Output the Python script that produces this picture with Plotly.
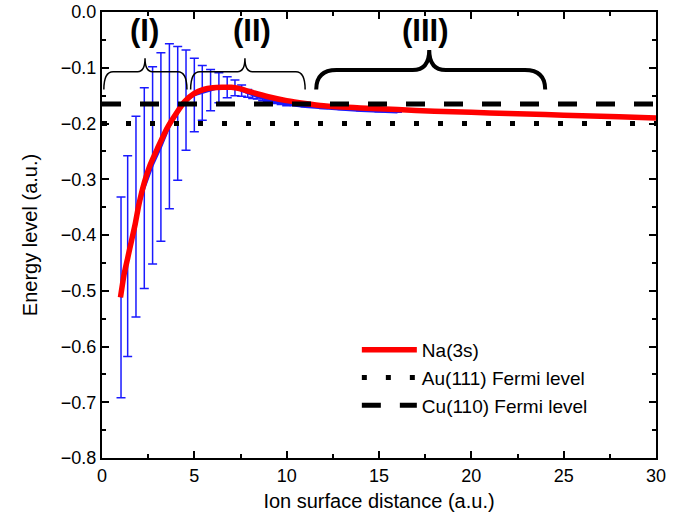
import plotly.graph_objects as go

# Na(3s) level vs. ion-surface distance
na_x = [1.0, 1.2, 1.4, 1.6, 1.8, 2.0, 2.3, 2.6, 3.0, 3.5, 4.0, 4.5, 5.0, 5.5, 6.0,
        6.5, 7.0, 7.5, 8.0, 9.0, 10.0, 11.0, 12.0, 14.0, 16.0, 18.0, 20.0, 22.0,
        24.0, 26.0, 28.0, 30.0]
na_y = [-0.512, -0.470, -0.440, -0.410, -0.380, -0.345, -0.305, -0.275, -0.245,
        -0.210, -0.183, -0.160, -0.146, -0.139, -0.136, -0.135, -0.135, -0.138,
        -0.143, -0.152, -0.159, -0.164, -0.168, -0.172, -0.175, -0.178, -0.180,
        -0.182, -0.184, -0.186, -0.188, -0.190]

# averaged level with its spread
avg_x = [1.03, 1.39, 1.84, 2.29, 2.74, 3.19, 3.65, 4.10, 4.55, 5.00, 5.43, 5.88,
         6.33, 6.78, 7.20, 7.56, 7.89, 8.16, 8.41, 8.70, 8.95, 9.20, 9.45, 9.70,
         10.0, 11.0, 12.0, 13.0, 14.0, 15.0, 16.0]
avg_y = [-0.512, -0.438, -0.367, -0.316, -0.275, -0.242, -0.205, -0.182, -0.158,
         -0.149, -0.145, -0.140, -0.136, -0.135, -0.136, -0.141, -0.146, -0.149,
         -0.152, -0.155, -0.158, -0.160, -0.162, -0.164, -0.166, -0.170, -0.173,
         -0.175, -0.177, -0.179, -0.180]
avg_err = [0.180, 0.180, 0.180, 0.180, 0.177, 0.169, 0.148, 0.120, 0.090, 0.066,
           0.049, 0.037, 0.027, 0.019, 0.014, 0.010, 0.007, 0.006, 0.004, 0.004,
           0.003, 0.003, 0.002, 0.002, 0.002, 0.0, 0.0, 0.0, 0.0, 0.0, 0.0]

# Fermi levels
au_fermi = -0.200
cu_fermi = -0.165
x_span = [0.0, 30.0]

# distance regions marked with braces
region_labels = ["(I)", "(II)", "(III)"]
region_start = [0.1, 4.8, 11.6]
region_end = [4.6, 11.0, 24.0]
region_tip = [2.33, 7.74, 17.72]
region_label_x = [2.3, 8.1, 17.54]

FONT = "Arial, Liberation Sans, sans-serif"

fig = go.Figure()

fig.add_trace(go.Scatter(
    x=avg_x, y=avg_y, mode="lines",
    line=dict(color="#1a1aff", width=2.5),
    error_y=dict(type="data", array=avg_err, visible=True,
                 color="#1a1aff", thickness=1.5, width=4.5),
    showlegend=False, hoverinfo="skip"))

fig.add_trace(go.Scatter(
    x=na_x, y=na_y, mode="lines", name="Na(3s)",
    line=dict(color="#ff0000", width=5.5, shape="spline", smoothing=0.6)))

fig.add_trace(go.Scatter(
    x=x_span, y=[au_fermi, au_fermi], mode="lines", name="Au(111) Fermi level",
    line=dict(color="black", width=5, dash="5px,19px")))

fig.add_trace(go.Scatter(
    x=x_span, y=[cu_fermi, cu_fermi], mode="lines", name="Cu(110) Fermi level",
    line=dict(color="black", width=5, dash="19px,19px")))


def brace_path(x0, x1, xt, y_end, y_mid, y_tip, r, rt):
    return (f"M {x0},{y_end} Q {x0},{y_mid} {x0 + r},{y_mid} "
            f"L {xt - rt},{y_mid} Q {xt},{y_mid} {xt},{y_tip} "
            f"Q {xt},{y_mid} {xt + rt},{y_mid} "
            f"L {x1 - r},{y_mid} Q {x1},{y_mid} {x1},{y_end}")


shapes = []
annotations = []
for i, lab in enumerate(region_labels):
    big = i == 2
    y_mid = -0.104 if big else -0.107
    y_tip = -0.068 if big else -0.083
    r = 1.1 if big else 0.5
    rt = 0.9 if big else 0.4
    shapes.append(dict(
        type="path", xref="x", yref="y",
        path=brace_path(region_start[i], region_end[i], region_tip[i],
                        -0.139, y_mid, y_tip, r, rt),
        line=dict(color="black", width=4 if big else 1.5)))
    annotations.append(dict(
        x=region_label_x[i], y=-0.033, xref="x", yref="y", text=f"<b>{lab}</b>",
        showarrow=False, font=dict(family=FONT, size=31, color="black")))

axis_common = dict(
    showline=True, linecolor="black", linewidth=2, mirror="ticks",
    ticks="inside", ticklen=7, tickwidth=1.5, tickcolor="black",
    showgrid=False, zeroline=False,
    tickfont=dict(family=FONT, size=18, color="black"),
)

fig.update_xaxes(
    range=[0, 30], dtick=5, tick0=0,
    minor=dict(dtick=2.5, ticks="inside", ticklen=4, tickwidth=1.5, tickcolor="black"),
    title=dict(text="Ion surface distance (a.u.)", font=dict(family=FONT, size=20, color="black"),
               standoff=9),
    **axis_common)
fig.update_yaxes(
    range=[-0.8, 0], dtick=0.1, tick0=0, tickformat=".1f",
    minor=dict(dtick=0.05, ticks="inside", ticklen=4, tickwidth=1.5, tickcolor="black"),
    title=dict(text="Energy level (a.u.)", font=dict(family=FONT, size=20, color="black"),
               standoff=18),
    **axis_common)

fig.update_layout(
    width=685, height=524,
    margin=dict(l=102, r=29, t=12, b=66, autoexpand=False),
    paper_bgcolor="white", plot_bgcolor="white",
    font=dict(family=FONT, color="black"),
    shapes=shapes, annotations=annotations,
    legend=dict(x=0.46, y=0.285, xanchor="left", yanchor="top",
                bgcolor="rgba(0,0,0,0)", itemwidth=55,
                font=dict(family=FONT, size=19, color="black"),
                tracegroupgap=0),
)

fig.write_html("out.html")
